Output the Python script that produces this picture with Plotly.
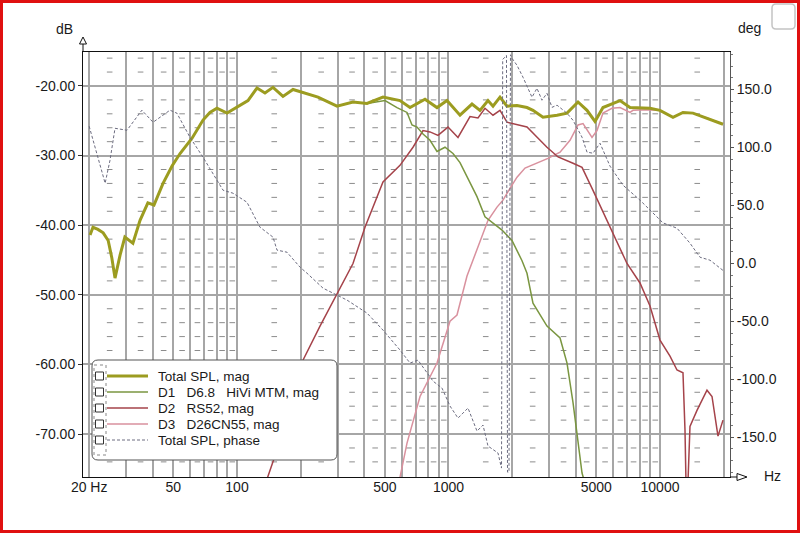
import plotly.graph_objects as go

# ---------------- data ----------------
total_f = [20.2, 20.85, 22.0, 23.3, 24.6, 25.6, 26.5, 28.0, 29.5, 30.9, 32.2, 34.8, 37.9, 40.5, 44.7,
           49.3, 53.8, 61.3, 69.1, 74.5, 80.4, 89.7, 100, 112.7, 124.3, 135.6, 148.0, 165.0, 184.0,
           198.6, 241.5, 297.1, 353.6, 411.8, 490.1, 589.8, 657.7, 774.3, 882.5, 983.8, 1133.4,
           1291.6, 1409.0, 1537.5, 1623.5, 1752.0, 1890.6, 2108.4, 2350.3, 2508.8, 2797.5, 3260.5,
           3634.1, 4096.5, 4518.0, 4929.0, 5376.2, 6470.5, 7214.6, 8969.7, 10000, 11520, 12844,
           14322, 16681, 18197, 19860]
total_db = [-41.4, -40.3, -40.6, -41.1, -42.2, -44.7, -47.6, -44.3, -41.7, -42.2, -42.6, -39.3, -36.8,
            -37.1, -34.0, -31.5, -29.7, -27.5, -24.9, -23.8, -23.2, -23.9, -23.1, -22.1, -20.3, -21.0,
            -20.2, -21.5, -20.5, -20.8, -21.6, -22.9, -22.3, -22.5, -21.6, -22.1, -23.1, -21.9, -23.1,
            -22.1, -24.2, -22.6, -23.5, -22.1, -22.9, -21.6, -22.9, -22.8, -23.1, -23.5, -24.5, -24.2,
            -23.9, -22.3, -23.5, -25.1, -23.1, -22.1, -23.1, -23.2, -23.5, -24.5, -23.8, -23.9, -24.6,
            -25.1, -25.5]

d1_f = [241.5, 297.1, 353.6, 411.8, 501.0, 570.8, 636.6, 672.2, 709.8, 757.7, 817.7, 882.5, 962.7,
        1050.2, 1133.4, 1223.2, 1363.8, 1488.0, 1623.5, 1790.5, 1996.3, 2226.5, 2350.3, 2508.8,
        2921.8, 3368.7, 3634.1, 3879.4, 4279.4, 4373]
d1_db = [-21.6, -22.9, -22.3, -22.5, -22.1, -23.1, -23.8, -25.6, -25.9, -26.9, -27.8, -29.4, -28.8,
         -29.7, -31.0, -33.1, -35.9, -38.8, -39.7, -40.7, -42.2, -45.1, -46.9, -51.2, -54.5, -56.2,
         -59.8, -65.5, -75.6, -76.6]

d2_f = [137.1, 154.6, 178.1, 205.1, 246.9, 297.1, 353.6, 402.9, 490.1, 589.8, 679.6, 757.7, 817.7,
        892.1, 994.5, 1109.0, 1263.9, 1378.8, 1488.0, 1623.5, 1752.0, 1890.6, 2178.4, 2350.3, 2921.8,
        3296.0, 3879.4, 4279.4, 4822.4, 5994.4, 6982.6, 8042, 8969.7, 10000, 11150, 12035, 12844,
        13128, 13270, 13562, 13860, 14960, 16681, 17617, 18803, 19860]
d2_db = [-76.9, -72.3, -65.6, -59.4, -54.5, -49.8, -45.5, -40.3, -33.8, -31.4, -28.8, -26.4, -26.6,
         -27.1, -25.9, -27.4, -24.4, -24.6, -23.2, -24.2, -23.5, -25.2, -25.6, -25.9, -28.8, -30.2,
         -31.1, -31.7, -35.0, -41.2, -45.5, -48.3, -51.6, -56.5, -58.8, -60.8, -61.2, -69.4, -76.9,
         -76.9, -68.9, -66.6, -63.7, -64.6, -70.3, -68.0]

d3_f = [583.4, 636.6, 733.4, 882.5, 1016.5, 1097.0, 1223.2, 1409.0, 1537.5, 1695.8, 1810.0, 1953.4,
        2108.4, 2300.3, 2620.3, 2953.8, 3368.7, 3755.0, 4096.5, 4326.0, 4770.0, 5036.7, 5376.2,
        5929.4, 6470.5, 7214.6, 7453.6, 8494, 10000, 11520, 12844, 14322, 16681, 18197, 19860]
d3_db = [-76.9, -71.3, -64.6, -59.8, -53.8, -52.9, -47.3, -42.2, -39.3, -37.4, -36.4, -34.7, -33.1,
         -31.8, -31.1, -30.4, -29.5, -27.8, -25.6, -25.4, -27.4, -26.4, -23.9, -23.2, -23.1, -23.8,
         -23.5, -23.4, -23.5, -24.5, -23.8, -23.9, -24.6, -25.1, -25.5]

phase_f = [20.0, 21.3, 22.0, 23.8, 25.1, 26.5, 30.2, 35.5, 40.1, 48.2, 52.0, 59.9, 69.1, 80.4, 85.9,
           95.7, 111.5, 128.4, 148.0, 154.6, 172.3, 198.6, 214.3, 255.1, 297.1, 331.2, 411.8, 490.1,
           589.8, 657.7, 717.6, 791.4, 844.9, 931.8, 1016.5, 1109.0, 1236.6, 1363.8, 1456.0, 1537.5,
           1714.0, 1781, 1804, 1850, 1880, 1901, 1932, 1964, 1996, 2108.4, 2250.7, 2481.6, 2620.3,
           2767.1, 2921.8, 3085.7, 3260.5, 3634.1, 3879.4, 4279.4, 4518.0, 4822.4, 5204.0, 5801.8,
           6685.0, 8042, 9267.7, 10332, 12035, 13860, 15453, 17236, 19860]
phase_deg = [118.4, 100.3, 91.6, 69.2, 89.1, 116.6, 114.9, 132.2, 121.8, 132.2, 129.6, 108.9, 91.6,
             71.8, 63.2, 60.6, 52.8, 31.3, 22.7, 11.5, 9.7, -3.2, -8.4, -21.3, -27.3, -31.6, -42.8,
             -57.5, -74.7, -85.9, -83.4, -94.6, -101.5, -107.5, -123.0, -133.4, -124.7, -144.6,
             -139.4, -157.5, -163.5, -176.5, 176.0, 178.0, 179.5, -180.0, -180.0, 180.0, 177.0,
             170.9, 160.6, 143.4, 151.1, 140.8, 146.8, 134.7, 136.5, 129.6, 123.5, 108.9, 96.0,
             95.1, 103.7, 84.0, 67.5, 54.6, 43.4, 35.0, 30.4, 17.5, 5.4, 2.8, -6.0]

x_grid_vals = [20, 30, 40, 50, 60, 70, 80, 90, 100, 200, 300, 400, 500, 600, 700, 800, 900, 1000,
               2000, 3000, 4000, 5000, 6000, 7000, 8000, 9000, 10000, 20000]
x_labels = {20: "20 Hz", 50: "50", 100: "100", 500: "500", 1000: "1000", 5000: "5000", 10000: "10000"}
y_ticks = [-20, -30, -40, -50, -60, -70]
y_ticklabels = ["-20.00", "-30.00", "-40.00", "-50.00", "-60.00", "-70.00"]
y2_ticks = [150, 100, 50, 0, -50, -100, -150]
y2_ticklabels = ["150.0", "100.0", "50.0", "0.0", "-50.0", "-100.0", "-150.0"]
minor_freqs = [25, 35, 45, 55, 65, 75, 85, 95, 150, 250, 350, 450, 550, 650, 750, 850, 950,
               1500, 2500, 3500, 4500, 5500, 6500, 7500, 8500, 9500, 15000]
minor_db = [-16, -18, -22, -24, -26, -28, -32, -34, -36, -38, -42, -44, -46, -48, -52, -54, -56,
            -58, -62, -64, -66, -68, -72, -74]

legend_names = ["Total SPL, mag", "D1\u00a0\u00a0 D6.8\u00a0\u00a0 HiVi MTM, mag", "D2\u00a0\u00a0 RS52, mag",
                "D3\u00a0\u00a0 D26CN55, mag", "Total SPL, phase"]

# ---------------- styles ----------------
C_TOTAL = "#9c9c20"
C_D1 = "#7a9640"
C_D2 = "#a5434a"
C_D3 = "#d9919e"
C_PH = "#6c6c80"
C_GRID = "#a6a6a6"
FONT = "Liberation Sans, Arial, sans-serif"

# plot-area in pixels
L, R, T, B = 83, 730, 52, 477
W, H = 800, 533


def PX(p):
    return (p - L) / (R - L)


def PY(p):
    return (B - p) / (B - T)


fig = go.Figure()

# minor dash marks of the grid
gx, gy = [], []
for f in minor_freqs:
    for d in minor_db:
        gx.append(f)
        gy.append(d)
fig.add_trace(go.Scatter(x=gx, y=gy, mode="markers", hoverinfo="skip", showlegend=False,
                         marker=dict(symbol="line-ew", size=4, line=dict(width=1, color="#8c8c8c"))))

fig.add_trace(go.Scatter(x=d3_f, y=d3_db, mode="lines", line=dict(color=C_D3, width=1.5), showlegend=False))
fig.add_trace(go.Scatter(x=d2_f, y=d2_db, mode="lines", line=dict(color=C_D2, width=1.5), showlegend=False))
fig.add_trace(go.Scatter(x=d1_f, y=d1_db, mode="lines", line=dict(color=C_D1, width=1.5), showlegend=False))
fig.add_trace(go.Scatter(x=total_f, y=total_db, mode="lines", line=dict(color=C_TOTAL, width=3), showlegend=False))
fig.add_trace(go.Scatter(x=phase_f, y=phase_deg, yaxis="y2", mode="lines",
                         line=dict(color=C_PH, width=1, dash="3px,2px"), showlegend=False))

shapes = []
annotations = []

# outer red frame
shapes.append(dict(type="rect", xref="paper", yref="paper", x0=PX(1.5), x1=PX(W - 1.5), y0=PY(1.5),
                   y1=PY(H - 1.5), line=dict(color="#e01010", width=3), layer="above"))


def rrect(x0, y0, x1, y1, r):
    pts = (f"M {PX(x0 + r)},{PY(y0)} L {PX(x1 - r)},{PY(y0)} Q {PX(x1)},{PY(y0)} {PX(x1)},{PY(y0 + r)} "
           f"L {PX(x1)},{PY(y1 - r)} Q {PX(x1)},{PY(y1)} {PX(x1 - r)},{PY(y1)} "
           f"L {PX(x0 + r)},{PY(y1)} Q {PX(x0)},{PY(y1)} {PX(x0)},{PY(y1 - r)} "
           f"L {PX(x0)},{PY(y0 + r)} Q {PX(x0)},{PY(y0)} {PX(x0 + r)},{PY(y0)} Z")
    return pts


# top-right checkbox
shapes.append(dict(type="path", xref="paper", yref="paper", path=rrect(772, 4, 795, 29, 4),
                   line=dict(color="#c4c4c4", width=1.5), fillcolor="white", layer="above"))

# axis arrows
shapes.append(dict(type="line", xref="paper", yref="paper", x0=PX(L), x1=PX(L), y0=PY(T), y1=PY(44),
                   line=dict(color="#111", width=1)))
shapes.append(dict(type="path", xref="paper", yref="paper",
                   path=f"M {PX(L)},{PY(37)} L {PX(L - 3.5)},{PY(44)} L {PX(L + 3.5)},{PY(44)} Z",
                   line=dict(color="#111", width=1), fillcolor="white"))
shapes.append(dict(type="line", xref="paper", yref="paper", x0=PX(R), x1=PX(737), y0=PY(B), y1=PY(B),
                   line=dict(color="#111", width=1)))
shapes.append(dict(type="path", xref="paper", yref="paper",
                   path=f"M {PX(747)},{PY(B)} L {PX(737)},{PY(B - 3.5)} L {PX(737)},{PY(B + 3.5)} Z",
                   line=dict(color="#111", width=1), fillcolor="white"))

# custom legend box
shapes.append(dict(type="path", xref="paper", yref="paper", path=rrect(92, 360, 337, 460, 6),
                   line=dict(color="#555", width=1), fillcolor="white", layer="above"))
shapes.append(dict(type="rect", xref="paper", yref="paper", x0=PX(94), x1=PX(106), y0=PY(365), y1=PY(455),
                   line=dict(color="#888", width=1, dash="dot"), layer="above"))
leg_styles = [dict(color=C_TOTAL, width=3), dict(color=C_D1, width=1.5), dict(color=C_D2, width=1.5),
              dict(color=C_D3, width=1.5), dict(color=C_PH, width=1, dash="3px,2px")]
rows = [376, 392, 408, 424, 440]
for name, st, ry in zip(legend_names, leg_styles, rows):
    shapes.append(dict(type="rect", xref="paper", yref="paper", x0=PX(95.5), x1=PX(103.5),
                       y0=PY(ry - 4), y1=PY(ry + 4), line=dict(color="#333", width=1), layer="above"))
    shapes.append(dict(type="line", xref="paper", yref="paper", x0=PX(107), x1=PX(148),
                       y0=PY(ry), y1=PY(ry), line=st, layer="above"))
    annotations.append(dict(xref="paper", yref="paper", x=PX(156), y=PY(ry), text=name, showarrow=False,
                            xanchor="left", yanchor="middle", font=dict(family=FONT, size=13.5, color="#1a1a1a")))

# axis titles
for txt, xx, yy in [("dB", 64, 29), ("deg", 749, 28), ("Hz", 772, 476)]:
    annotations.append(dict(xref="paper", yref="paper", x=PX(xx), y=PY(yy), text=txt, showarrow=False,
                            xanchor="center", yanchor="middle", font=dict(family=FONT, size=14, color="#1a1a1a")))

fig.update_layout(
    width=W, height=H, margin=dict(l=L, r=W - R, t=T, b=H - B),
    paper_bgcolor="white", plot_bgcolor="white", showlegend=False,
    font=dict(family=FONT, size=14, color="#1a1a1a"),
    xaxis=dict(type="log", range=[1.2719, 4.3310], tickvals=x_grid_vals,
               ticktext=[x_labels.get(v, "") for v in x_grid_vals], tickangle=0,
               showgrid=True, gridcolor=C_GRID, gridwidth=1.5, zeroline=False,
               showline=True, linecolor="#111", linewidth=1, mirror=True, ticks="",
               ticklabelstandoff=-3,
               tickfont=dict(family=FONT, size=14, color="#1a1a1a")),
    yaxis=dict(range=[-76.17, -15.12], tickvals=y_ticks, ticktext=y_ticklabels,
               showgrid=True, gridcolor=C_GRID, gridwidth=1.5, zeroline=False,
               showline=True, linecolor="#111", linewidth=1, ticks="outside", ticklen=4,
               tickcolor="#333", tickfont=dict(family=FONT, size=14, color="#1a1a1a")),
    yaxis2=dict(range=[-184.2, 182.4], overlaying="y", side="right", tickvals=y2_ticks,
                ticktext=y2_ticklabels, showgrid=False, zeroline=False, showline=True,
                linecolor="#555", linewidth=1, ticks="outside", ticklen=3, tickcolor="#555",
                tickfont=dict(family=FONT, size=14, color="#1a1a1a"),
                minor=dict(dtick=10, ticks="outside", ticklen=2, tickcolor="#777")),
    shapes=shapes, annotations=annotations,
)

fig.write_html("out.html", config={"displayModeBar": False},
               post_script="document.body.style.margin='0';document.body.style.overflow='hidden';")
